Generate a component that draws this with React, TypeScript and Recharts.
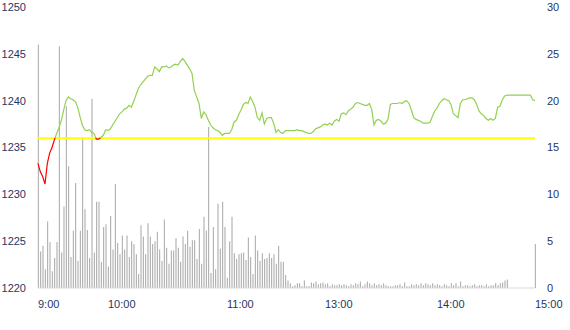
import React from 'react';
import { ComposedChart, Bar, Line, XAxis, YAxis, ReferenceLine } from 'recharts';

// intraday price (left axis) and volume (right axis), one entry per interval
const prices = [
  1233.3, 1232.4, 1231.9, 1231.1, 1233.3, 1234.4, 1235.0, 1235.8, 1236.5, 1237.1,
  1237.9, 1239.0, 1240.0, 1240.4, 1240.2, 1240.1, 1239.9, 1239.3, 1238.3, 1237.4,
  1236.9, 1236.8, 1236.9, 1236.6, 1236.5, 1235.9, 1235.9, 1236.1, 1236.3, 1236.9,
  1236.8, 1237.0, 1237.4, 1237.8, 1238.2, 1238.6, 1238.8, 1239.1, 1239.2, 1239.5,
  1239.3, 1239.9,
  1240.6, 1241.3, 1241.7, 1242.0, 1242.3, 1242.6, 1242.7, 1242.7, 1243.6, 1243.4,
  1243.1, 1243.6, 1243.6, 1243.7, 1243.5, 1243.6, 1243.8, 1243.9, 1243.8, 1244.2,
  1244.5, 1244.2, 1243.8, 1243.4, 1242.9, 1241.1, 1240.4, 1239.7, 1238.1, 1238.8,
  1238.5, 1237.9, 1237.4, 1237.1, 1236.9, 1236.8, 1236.6, 1236.3, 1236.5, 1236.5,
  1236.5, 1236.9, 1237.7,
  1237.9, 1238.5, 1239.0, 1239.6, 1239.8, 1239.7, 1240.4, 1239.9, 1239.3, 1238.2,
  1237.9, 1238.7, 1237.5, 1238.1, 1238.2, 1238.2, 1237.6, 1236.6, 1236.9, 1236.6,
  1236.5, 1236.8, 1236.8, 1236.8, 1236.8, 1236.8, 1236.9, 1236.8, 1236.8, 1236.7,
  1236.6, 1236.5, 1236.5, 1236.7, 1237.0, 1237.1, 1237.2, 1237.4, 1237.5, 1237.4,
  1237.6, 1237.4, 1237.8,
  1238.0, 1237.8, 1238.6, 1238.7, 1238.5, 1238.9, 1239.1, 1239.3, 1239.7, 1239.8,
  1239.7, 1239.6, 1239.5, 1239.5, 1239.7, 1239.1, 1237.4, 1237.9, 1238.0, 1237.8,
  1237.5, 1237.6, 1238.0, 1239.6, 1239.7, 1239.7, 1239.7, 1239.8, 1239.7, 1239.9,
  1240.0, 1239.7, 1239.0, 1238.2, 1238.0, 1237.9, 1237.8, 1237.6, 1237.6, 1237.6,
  1237.7, 1238.3, 1238.9,
  1239.2, 1239.7, 1240.0, 1240.2, 1240.1, 1240.0, 1239.6, 1238.6, 1238.4, 1238.2,
  1239.7, 1240.1, 1240.1, 1240.2, 1240.3, 1240.3, 1240.1, 1239.6, 1238.9, 1238.6,
  1238.4, 1238.1, 1237.9, 1238.1, 1237.9, 1238.1, 1239.3, 1239.4, 1240.1, 1240.5,
  1240.6, 1240.6, 1240.6, 1240.6, 1240.6, 1240.6, 1240.6, 1240.6, 1240.6, 1240.6,
  1240.6, 1240.1, 1240.0,
];

const volumes = [
  26.0, 3.9, 4.5, 2.0, 7.1, 4.9, 1.8, 3.2, 4.9, 25.8,
  3.8, 8.7, 19.4, 13.0, 3.3, 6.1, 11.2, 2.9, 6.1, 16.1,
  8.4, 6.2, 3.2, 20.2, 3.8, 9.2, 9.2, 2.8, 6.5, 6.8,
  2.3, 7.7, 4.1, 11.1, 4.8, 3.6, 5.6, 4.1, 5.6, 3.3,
  5.0, 4.7,
  3.6, 1.5, 6.7, 5.5, 3.6, 6.9, 5.5, 4.7, 5.0, 6.0,
  4.1, 2.9, 7.3, 4.3, 2.6, 4.0, 4.0, 5.3, 4.3, 2.8,
  5.5, 4.7, 6.1, 4.4, 5.1, 5.1, 3.1, 6.3, 2.6, 7.6,
  6.1, 17.2, 1.6, 6.5, 2.0, 9.0, 4.2, 9.2, 6.5, 1.1,
  5.0, 7.6, 3.7,
  3.1, 3.6, 3.7, 3.8, 3.0, 5.4, 3.3, 1.5, 5.6, 4.0,
  2.9, 3.7, 3.1, 3.2, 3.7, 3.2, 3.6, 2.6, 4.5, 2.8,
  2.8, 1.4, 0.8, 0.5, 0.2, 0.3, 0.5, 0.5, 0.2, 0.8,
  0.2, 0.2, 0.6, 0.5, 0.7, 0.4, 0.5, 0.6, 0.4, 0.5,
  0.2, 0.4, 0.3,
  0.3, 0.4, 0.3, 0.4, 0.3, 0.2, 0.4, 0.3, 0.5, 0.4,
  0.7, 0.2, 0.4, 0.7, 0.5, 0.3, 0.5, 0.3, 0.4, 0.3,
  0.5, 0.3, 0.2, 0.2, 0.2, 0.3, 0.3, 0.4, 0.2, 0.6,
  0.2, 0.2, 0.4, 0.3, 0.4, 0.3, 0.5, 0.3, 0.5, 0.4,
  0.3, 0.5, 0.3,
  0.4, 0.3, 0.2, 0.4, 0.3, 0.2, 0.5, 0.3, 0.5, 0.2,
  0.7, 0.2, 0.3, 0.3, 0.2, 0.3, 0.4, 0.2, 0.3, 0.3,
  0.2, 0.4, 0.2, 0.3, 0.3, 0.5, 0.3, 0.5, 0.6, 0.8,
  0.9, 0, 0, 0, 0, 0, 0, 0, 0, 0,
  0, 0, 4.7,
];

const prevClose = 1236;

const timeTicks = [0, 30, 81, 123, 171, 213];
const timeLabels = ['9:00', '10:00', '11:00', '13:00', '14:00', '15:00'];

const priceTicks = [1220, 1225, 1230, 1235, 1240, 1245, 1250];
const volumeTicks = [0, 5, 10, 15, 20, 25, 30];

const data = prices.map((p, i) => ({ idx: i, price: p, volume: volumes[i] }));

const maxPrice = Math.max(...prices);
const minPrice = Math.min(...prices);
const splitOffset = (maxPrice - prevClose) / (maxPrice - minPrice);

const labelColor = '#1F3763';
const fontFamily = '"Liberation Sans", Arial, sans-serif';

const TimeTick = (props: any) => {
  const { x, y, payload } = props;
  const k = timeTicks.indexOf(payload.value);
  return (
    <text x={x} y={y} dy="0.71em" textAnchor="start" fill={labelColor} fontSize={11} fontFamily={fontFamily}>
      {k >= 0 ? timeLabels[k] : ''}
    </text>
  );
};

const App: React.FC = () => {
  return (
    <div style={{ position: 'absolute', left: 0, top: 0, background: '#fff' }}>
      <ComposedChart width={570} height={330} data={data} margin={{ top: 7, right: 0, bottom: 0, left: 0 }}>
        <defs>
          <linearGradient id="priceSplit" x1="0" y1="0" x2="0" y2="1">
            <stop offset={splitOffset} stopColor="#92D050" />
            <stop offset={splitOffset} stopColor="#FF0000" />
          </linearGradient>
        </defs>
        <XAxis
          dataKey="idx"
          type="number"
          domain={[0, prices.length - 1]}
          ticks={timeTicks}
          interval={0}
          tick={<TimeTick />}
          tickLine={false}
          tickSize={0}
          tickMargin={12}
          height={42}
          axisLine={{ stroke: '#D9D9D9' }}
        />
        <YAxis
          yAxisId="price"
          domain={[1220, 1250]}
          ticks={priceTicks}
          interval={0}
          width={38}
          axisLine={false}
          tickLine={false}
          tickSize={0}
          tickMargin={12}
          tick={{ fill: labelColor, fontSize: 11, fontFamily }}
        />
        <YAxis
          yAxisId="vol"
          orientation="right"
          domain={[0, 30]}
          ticks={volumeTicks}
          interval={0}
          width={35}
          axisLine={false}
          tickLine={false}
          tickSize={0}
          tickMargin={12}
          tick={{ fill: labelColor, fontSize: 11, fontFamily }}
        />
        <Bar yAxisId="vol" dataKey="volume" fill="#A6A6A6" barSize={1} isAnimationActive={false} />
        <ReferenceLine yAxisId="price" y={prevClose} stroke="#FFFF00" strokeWidth={2} />
        <Line
          yAxisId="price"
          dataKey="price"
          type="linear"
          stroke="url(#priceSplit)"
          strokeWidth={1.2}
          dot={false}
          activeDot={false}
          isAnimationActive={false}
        />
      </ComposedChart>
    </div>
  );
};

export default App;
